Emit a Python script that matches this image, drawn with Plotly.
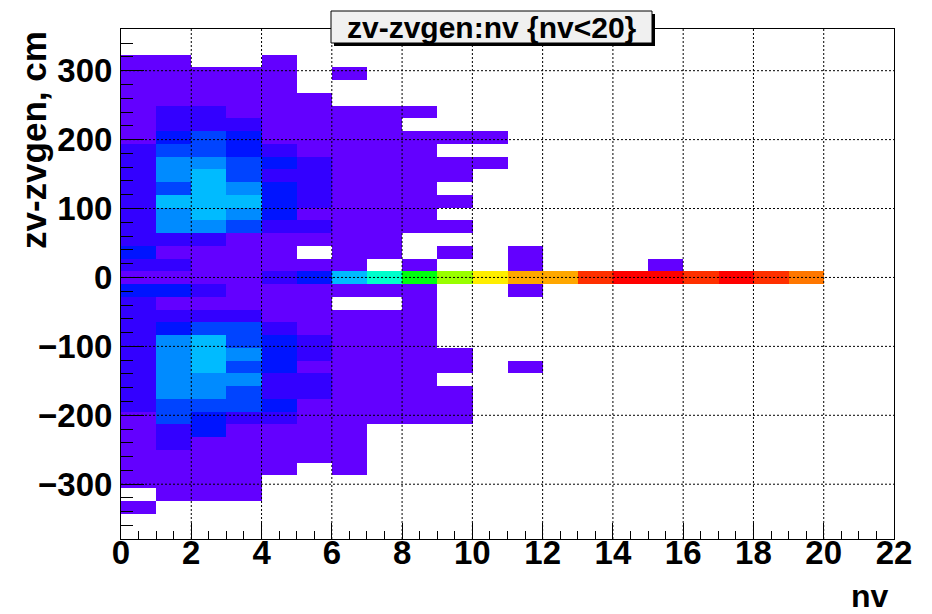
import colorsys
import plotly.graph_objects as go

# ---- binning -------------------------------------------------------------
nv_edges = list(range(0, 21))            # nv bins of width 1, nv < 20
dz_low, dz_high, dz_nbins = -379.5, 360.5, 40
nv_axis_max = 22

# ---- bin contents: zv-zvgen (rows, from the top bin down) vs nv (columns 0..19)
# 0 marks an empty bin
counts_top_down = [
    [0, 0, 0, 0, 0, 0, 0, 0, 0, 0, 0, 0, 0, 0, 0, 0, 0, 0, 0, 0],
    [0, 0, 0, 0, 0, 0, 0, 0, 0, 0, 0, 0, 0, 0, 0, 0, 0, 0, 0, 0],
    [5, 7, 0, 0, 3, 0, 0, 0, 0, 0, 0, 0, 0, 0, 0, 0, 0, 0, 0, 0],
    [9, 12, 6, 4, 8, 0, 2, 0, 0, 0, 0, 0, 0, 0, 0, 0, 0, 0, 0, 0],
    [11, 14, 10, 9, 6, 0, 0, 0, 0, 0, 0, 0, 0, 0, 0, 0, 0, 0, 0, 0],
    [13, 17, 15, 12, 9, 4, 0, 0, 0, 0, 0, 0, 0, 0, 0, 0, 0, 0, 0, 0],
    [15, 26, 23, 17, 12, 7, 3, 2, 1, 0, 0, 0, 0, 0, 0, 0, 0, 0, 0, 0],
    [18, 31, 29, 24, 14, 8, 5, 3, 0, 0, 0, 0, 0, 0, 0, 0, 0, 0, 0, 0],
    [17, 45, 63, 47, 16, 10, 6, 4, 2, 1, 1, 0, 0, 0, 0, 0, 0, 0, 0, 0],
    [23, 66, 71, 52, 25, 13, 7, 5, 3, 0, 0, 0, 0, 0, 0, 0, 0, 0, 0, 0],
    [27, 84, 88, 67, 43, 22, 9, 6, 3, 1, 1, 0, 0, 0, 0, 0, 0, 0, 0, 0],
    [29, 91, 104, 72, 34, 27, 10, 7, 4, 2, 0, 0, 0, 0, 0, 0, 0, 0, 0, 0],
    [32, 76, 112, 85, 48, 29, 11, 8, 4, 0, 0, 0, 0, 0, 0, 0, 0, 0, 0, 0],
    [34, 106, 117, 103, 52, 31, 12, 8, 5, 2, 0, 0, 0, 0, 0, 0, 0, 0, 0, 0],
    [33, 95, 109, 87, 49, 18, 11, 9, 5, 0, 0, 0, 0, 0, 0, 0, 0, 0, 0, 0],
    [30, 89, 92, 64, 36, 24, 10, 7, 3, 1, 0, 0, 0, 0, 0, 0, 0, 0, 0, 0],
    [26, 35, 32, 18, 15, 12, 9, 6, 0, 0, 0, 0, 0, 0, 0, 0, 0, 0, 0, 0],
    [41, 16, 19, 17, 13, 0, 8, 5, 0, 2, 0, 1, 0, 0, 0, 0, 0, 0, 0, 0],
    [28, 24, 19, 18, 14, 11, 7, 0, 4, 0, 0, 2, 0, 0, 0, 1, 0, 0, 0, 0],
    [12, 15, 17, 14, 33, 44, 108, 151, 207, 268, 305, 331, 326, 368, 392, 387, 362, 400, 371, 349],
    [47, 44, 27, 16, 13, 12, 9, 6, 4, 0, 0, 2, 0, 0, 0, 0, 0, 0, 0, 0],
    [25, 18, 15, 14, 12, 10, 0, 0, 3, 0, 0, 0, 0, 0, 0, 0, 0, 0, 0, 0],
    [27, 36, 33, 28, 17, 13, 8, 6, 4, 0, 0, 0, 0, 0, 0, 0, 0, 0, 0, 0],
    [31, 57, 68, 65, 29, 16, 9, 7, 5, 0, 0, 0, 0, 0, 0, 0, 0, 0, 0, 0],
    [33, 93, 113, 74, 51, 25, 10, 7, 5, 0, 0, 0, 0, 0, 0, 0, 0, 0, 0, 0],
    [34, 97, 118, 96, 55, 30, 11, 8, 6, 2, 0, 0, 0, 0, 0, 0, 0, 0, 0, 0],
    [32, 98, 110, 73, 46, 18, 11, 8, 5, 3, 0, 1, 0, 0, 0, 0, 0, 0, 0, 0],
    [30, 92, 94, 85, 37, 28, 10, 7, 4, 0, 0, 0, 0, 0, 0, 0, 0, 0, 0, 0],
    [29, 86, 89, 68, 35, 26, 9, 7, 4, 2, 0, 0, 0, 0, 0, 0, 0, 0, 0, 0],
    [26, 70, 72, 62, 44, 17, 9, 6, 3, 2, 0, 0, 0, 0, 0, 0, 0, 0, 0, 0],
    [19, 65, 51, 35, 29, 14, 8, 5, 3, 1, 0, 0, 0, 0, 0, 0, 0, 0, 0, 0],
    [17, 37, 42, 18, 15, 11, 6, 0, 0, 0, 0, 0, 0, 0, 0, 0, 0, 0, 0, 0],
    [14, 30, 17, 15, 12, 9, 5, 0, 0, 0, 0, 0, 0, 0, 0, 0, 0, 0, 0, 0],
    [12, 18, 14, 13, 9, 6, 4, 0, 0, 0, 0, 0, 0, 0, 0, 0, 0, 0, 0, 0],
    [9, 13, 11, 10, 6, 0, 2, 0, 0, 0, 0, 0, 0, 0, 0, 0, 0, 0, 0, 0],
    [6, 9, 8, 5, 0, 0, 0, 0, 0, 0, 0, 0, 0, 0, 0, 0, 0, 0, 0, 0],
    [0, 5, 4, 3, 0, 0, 0, 0, 0, 0, 0, 0, 0, 0, 0, 0, 0, 0, 0, 0],
    [2, 0, 0, 0, 0, 0, 0, 0, 0, 0, 0, 0, 0, 0, 0, 0, 0, 0, 0, 0],
    [0, 0, 0, 0, 0, 0, 0, 0, 0, 0, 0, 0, 0, 0, 0, 0, 0, 0, 0, 0],
    [0, 0, 0, 0, 0, 0, 0, 0, 0, 0, 0, 0, 0, 0, 0, 0, 0, 0, 0, 0],
]

title_text = "zv-zvgen:nv {nv<20}"
x_title = "nv"
y_title = "zv-zvgen, cm"

# ---- derived arrays ------------------------------------------------------
bin_w = (dz_high - dz_low) / dz_nbins
dz_edges = [dz_low + i * bin_w for i in range(dz_nbins + 1)]
z = [[(v if v > 0 else None) for v in row] for row in reversed(counts_top_down)]
zmax = max(max(r) for r in counts_top_down)

# "pretty" violet->red palette (50 HLS hues), sampled on 20 contour levels
def pretty_color(i):
    hue = 280.0 - (i + 1) * 280.0 / 50
    r, g, b = colorsys.hls_to_rgb(max(hue, 0.0) / 360.0, 0.5, 1.0)
    return "rgb(%d,%d,%d)" % (round(r * 255), round(g * 255), round(b * 255))

n_levels = 20
colorscale = []
for lev in range(n_levels):
    c = pretty_color(int((lev + 0.99) * 50 / n_levels))
    colorscale.append([lev / n_levels, c])
    colorscale.append([(lev + 1) / n_levels, c])

# ---- figure --------------------------------------------------------------
W, H = 932, 614
ML, MR, MT, MB = 121, 38, 29, 75
PW, PH = W - ML - MR, H - MT - MB

def px_x(p):
    return (p - ML) / PW

def px_y(p):
    return (H - MB - p) / PH

bold = dict(family="Liberation Sans, Arial, sans-serif", color="black", weight="bold")

fig = go.Figure(go.Heatmap(
    x=nv_edges, y=dz_edges, z=z,
    zmin=0, zmax=zmax, colorscale=colorscale,
    showscale=False, hoverongaps=False,
))

# dotted grid drawn over the cells
grid = dict(color="black", width=1, dash="2px,2px")
shapes = []
for xv in range(2, nv_axis_max, 2):
    shapes.append(dict(type="line", xref="x", yref="paper", x0=xv, x1=xv,
                       y0=0, y1=1, line=grid, layer="above"))
for yv in range(-300, 301, 100):
    shapes.append(dict(type="line", xref="paper", yref="y", x0=0, x1=1,
                       y0=yv, y1=yv, line=grid, layer="above"))

# title box with shadow
bx0, bx1, by0, by1 = 331, 652, 11, 43
sh = 3
shapes.append(dict(type="rect", xref="paper", yref="paper",
                   x0=px_x(bx0 + sh), x1=px_x(bx1 + sh), y0=px_y(by1 + sh), y1=px_y(by0 + sh),
                   fillcolor="black", line=dict(width=0), layer="above"))
shapes.append(dict(type="rect", xref="paper", yref="paper",
                   x0=px_x(bx0), x1=px_x(bx1), y0=px_y(by1), y1=px_y(by0),
                   fillcolor="#f0f0f0", line=dict(color="black", width=1), layer="above"))

annotations = [
    dict(text=title_text, xref="paper", yref="paper",
         x=px_x((bx0 + bx1) / 2), y=px_y((by0 + by1) / 2),
         xanchor="center", yanchor="middle", showarrow=False,
         font=dict(bold, size=30)),
    dict(text=x_title, xref="paper", yref="paper",
         x=px_x(891), y=px_y(596), xanchor="right", yanchor="middle",
         showarrow=False, font=dict(bold, size=32)),
    dict(text=y_title, xref="paper", yref="paper",
         x=px_x(33), y=px_y(140), xanchor="center", yanchor="middle",
         textangle=-90, showarrow=False, font=dict(bold, size=35)),
]

axis_common = dict(
    showline=True, linecolor="black", linewidth=1, mirror=True,
    showgrid=False, zeroline=False, ticks="inside", tickcolor="black",
    tickwidth=1, tickfont=dict(bold, size=33),
)

fig.update_layout(
    width=W, height=H,
    margin=dict(l=ML, r=MR, t=MT, b=MB, pad=0),
    paper_bgcolor="white", plot_bgcolor="white",
    showlegend=False,
    xaxis=dict(axis_common, range=[0, nv_axis_max], tick0=0, dtick=2, ticklen=16,
               minor=dict(dtick=0.5, ticks="inside", ticklen=8, tickcolor="black",
                          showgrid=False),
               ticklabelstandoff=-16),
    yaxis=dict(axis_common, range=[dz_low, dz_high], tick0=0, dtick=100, ticklen=23,
               minor=dict(dtick=20, ticks="inside", ticklen=12, tickcolor="black",
                          showgrid=False),
               ticklabelstandoff=1),
    shapes=shapes,
    annotations=annotations,
)

fig.write_html("out.html")
